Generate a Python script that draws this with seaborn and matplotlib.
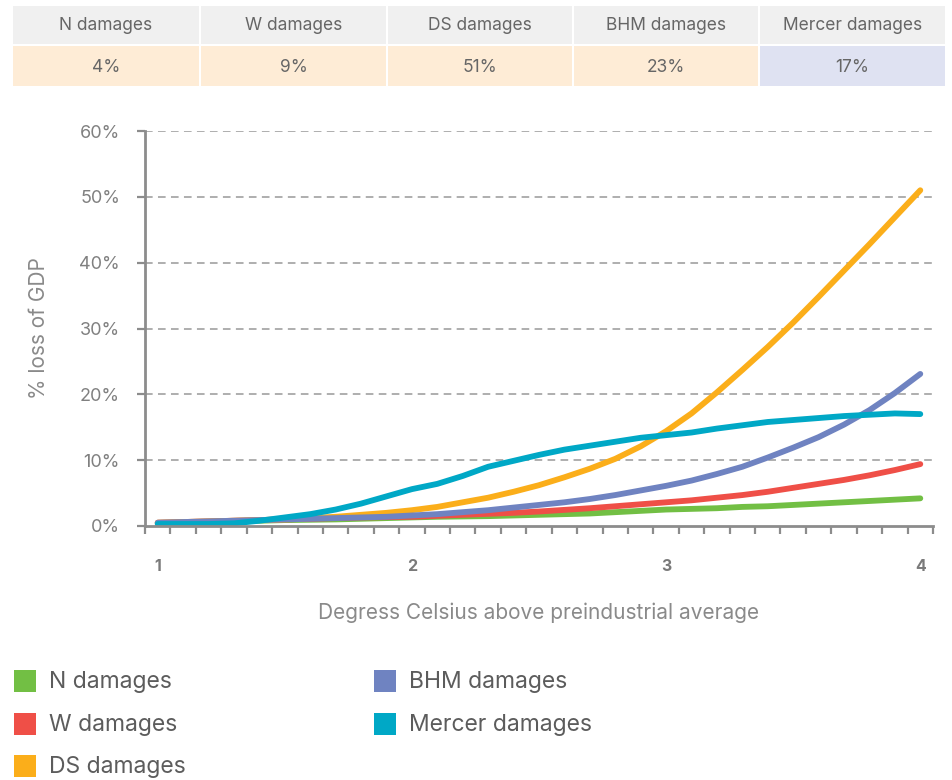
import numpy as np
import pandas as pd
import matplotlib
matplotlib.use("Agg")
import matplotlib.pyplot as plt
from matplotlib.patches import Rectangle
import seaborn as sns

# temperature steps (degrees above preindustrial)
temps = [1.0, 1.1, 1.2, 1.3, 1.4, 1.5, 1.6, 1.7, 1.8, 1.9,
         2.0, 2.1, 2.2, 2.3, 2.4, 2.5, 2.6, 2.7, 2.8, 2.9,
         3.0, 3.1, 3.2, 3.3, 3.4, 3.5, 3.6, 3.7, 3.8, 3.9, 4.0]

# % loss of GDP
n_damages = [0.4, 0.5, 0.6, 0.7, 0.8, 0.9, 0.95, 1.0, 1.1, 1.2,
             1.3, 1.4, 1.45, 1.5, 1.6, 1.7, 1.8, 1.9, 2.1, 2.3,
             2.5, 2.6, 2.7, 2.9, 3.0, 3.2, 3.4, 3.6, 3.8, 4.0, 4.2]
w_damages = [0.5, 0.6, 0.7, 0.8, 0.9, 1.0, 1.1, 1.2, 1.3, 1.35,
             1.4, 1.55, 1.7, 1.85, 2.0, 2.2, 2.45, 2.7, 3.0, 3.3,
             3.6, 3.9, 4.3, 4.7, 5.2, 5.8, 6.4, 7.0, 7.7, 8.5, 9.4]
ds_damages = [0.5, 0.6, 0.7, 0.8, 0.9, 1.0, 1.2, 1.4, 1.7, 2.0,
              2.4, 2.9, 3.6, 4.3, 5.2, 6.2, 7.4, 8.7, 10.2, 12.1,
              14.4, 17.1, 20.3, 23.7, 27.2, 30.9, 34.8, 38.8, 42.8, 46.9, 51.0]
bhm_damages = [0.5, 0.6, 0.7, 0.8, 0.9, 1.0, 1.1, 1.2, 1.3, 1.4,
               1.6, 1.8, 2.1, 2.4, 2.8, 3.2, 3.6, 4.1, 4.7, 5.4,
               6.1, 6.9, 7.9, 9.0, 10.4, 11.9, 13.5, 15.4, 17.6, 20.2, 23.1]
mercer_damages = [0.3, 0.3, 0.3, 0.4, 0.8, 1.3, 1.8, 2.5, 3.4, 4.5,
                  5.6, 6.4, 7.6, 9.0, 9.9, 10.8, 11.6, 12.2, 12.8, 13.4,
                  13.8, 14.2, 14.8, 15.3, 15.8, 16.1, 16.4, 16.7, 16.9, 17.1, 17.0]

series_names = ["N damages", "W damages", "DS damages", "BHM damages", "Mercer damages"]
series_colors = ["#72bf44", "#ef4f47", "#fbae1a", "#6f83c1", "#00a8c6"]
table_values = ["4%", "9%", "51%", "23%", "17%"]
table_colors = ["#feecd6", "#feecd6", "#feecd6", "#feecd6", "#dfe2f2"]

frames = []
for name, vals in zip(series_names, [n_damages, w_damages, ds_damages, bhm_damages, mercer_damages]):
    frames.append(pd.DataFrame({"temp": temps, "loss": vals, "series": name}))
df = pd.concat(frames, ignore_index=True)

sns.set_theme(style="white")
plt.rcParams["font.family"] = ["Inter", "DejaVu Sans"]

W, H = 953, 780
fig = plt.figure(figsize=(W / 100, H / 100), dpi=100)
ax = fig.add_axes([145 / W, 1 - 526 / H, (933 - 145) / W, (526 - 131) / H])

sns.lineplot(data=df, x="temp", y="loss", hue="series", hue_order=series_names,
             palette=dict(zip(series_names, series_colors)), linewidth=4.2,
             solid_capstyle="round", legend=False, ax=ax)

ax.set_xlim(0.95, 4.05)
ax.set_ylim(0, 60)
grey = "#8c8c8c"
for s in ["top", "right"]:
    ax.spines[s].set_visible(False)
for s in ["left", "bottom"]:
    ax.spines[s].set_color(grey)
    ax.spines[s].set_linewidth(2)

ax.set_yticks(range(0, 61, 10))
ax.set_yticklabels([f"{v}%" for v in range(0, 61, 10)], color="#808080", fontsize=13)
ax.tick_params(axis="y", length=6, width=1.6, color=grey, pad=12, left=True)
for v in range(10, 61, 10):
    ax.axhline(v, color="#999999", lw=1.1, ls=(0, (5, 3.5)), zorder=0)

ax.set_xticks([1, 2, 3, 4])
ax.set_xticklabels(["1", "2", "3", "4"], color="#7a7a7a", fontsize=11.5, fontweight="bold")
ax.tick_params(axis="x", which="major", length=0, pad=24)
ax.set_xticks(np.arange(0.95, 4.06, 0.1), minor=True)
ax.tick_params(axis="x", which="minor", length=6, width=1.6, color=grey, bottom=True)

ax.set_ylabel("% loss of GDP", color="#8a8a8a", fontsize=15, labelpad=22)
ax.set_xlabel("Degress Celsius above preindustrial average", color="#8a8a8a", fontsize=15, labelpad=20)

# overlay in pixel coordinates for the table and legend
over = fig.add_axes([0, 0, 1, 1], zorder=-1)
over.set_xlim(0, W)
over.set_ylim(H, 0)
over.axis("off")

col_edges = [13, 201, 388, 574, 760, 947]
for i, name in enumerate(series_names):
    x0, x1 = col_edges[i], col_edges[i + 1] - 2
    over.add_patch(Rectangle((x0, 6), x1 - x0, 38, color="#f0f0f0", lw=0))
    over.add_patch(Rectangle((x0, 46), x1 - x0, 40, color=table_colors[i], lw=0))
    over.text((x0 + x1) / 2, 25, name, ha="center", va="center", fontsize=12.5, color="#666666")
    over.text((x0 + x1) / 2, 67, table_values[i], ha="center", va="center", fontsize=12.5, color="#666666")

leg = fig.add_axes([0, 0, 1, 1], zorder=2)
leg.set_xlim(0, W)
leg.set_ylim(H, 0)
leg.axis("off")
for i, (name, color) in enumerate(zip(series_names, series_colors)):
    col, row = divmod(i, 3)
    x = 14 + 360 * col
    y = 681 + 42.5 * row
    leg.add_patch(Rectangle((x, y - 11), 22, 22, color=color, lw=0))
    leg.text(x + 35, y + 1, name, ha="left", va="center", fontsize=16.5, color="#5c5c5c")

fig.savefig("out.png", dpi=100)
